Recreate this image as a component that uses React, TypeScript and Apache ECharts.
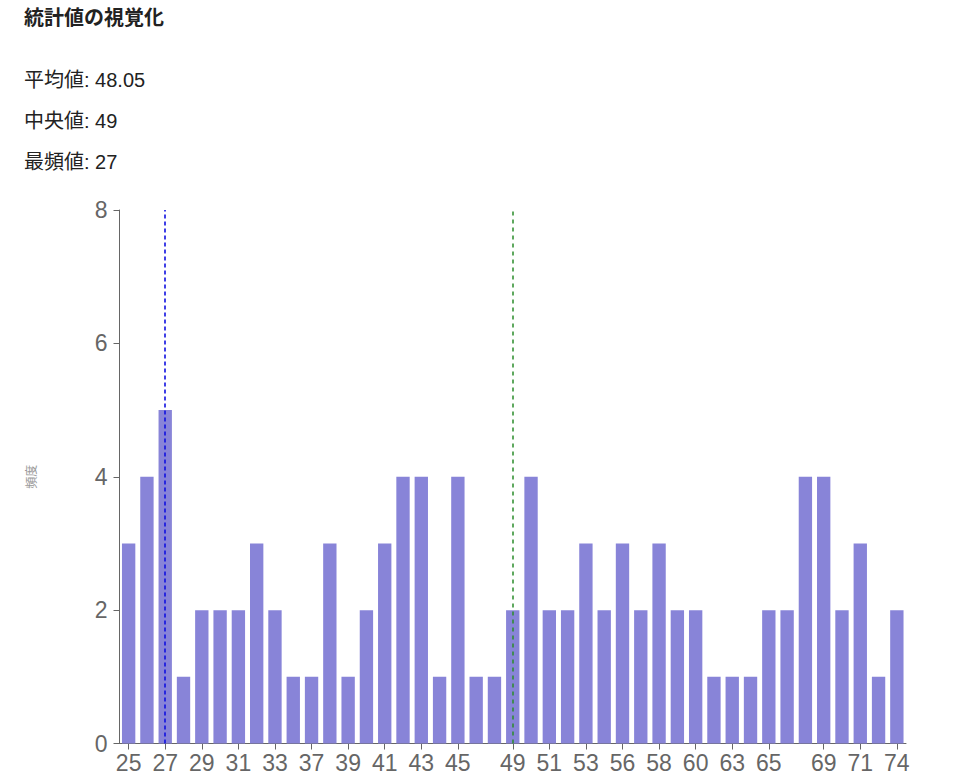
import React, { useEffect, useRef } from "react";
import * as echarts from "echarts";

const categories: string[] = [
  "25", "26", "27", "28", "29", "30", "31", "32", "33", "35",
  "37", "38", "39", "40", "41", "42", "43", "44", "45", "46",
  "47", "49", "50", "51", "52", "53", "54", "56", "57", "58",
  "59", "60", "61", "63", "64", "65", "66", "68", "69", "70",
  "71", "72", "74",
];
const frequencies: number[] = [
  3, 4, 5, 1, 2, 2, 2, 3, 2, 1,
  1, 3, 1, 2, 3, 4, 4, 1, 4, 1,
  1, 2, 4, 2, 2, 3, 2, 3, 2, 3,
  2, 2, 1, 1, 1, 2, 2, 4, 4, 2,
  3, 1, 2,
];
const tickLabels: string[] = [
  "25", "27", "29", "31", "33", "37", "39", "41", "43", "45",
  "49", "51", "53", "56", "58", "60", "63", "65", "69", "71", "74",
];
const statLines: string[] = ["平均値: 48.05", "中央値: 49", "最頻値: 27"];
const modeCategory = "27";
const medianCategory = "49";

export default function App() {
  const ref = useRef<HTMLDivElement>(null);
  useEffect(() => {
    if (!ref.current) return;
    const chart = echarts.init(ref.current, undefined, { renderer: "svg" });
    const font = "'Liberation Sans', 'Noto Sans CJK JP', sans-serif";
    const showTick = (_i: number, v: string) => tickLabels.includes(v);
    chart.setOption({
      animation: false,
      textStyle: { fontFamily: font },
      graphic: [
        {
          type: "text",
          left: 24,
          top: 8,
          style: { text: "統計値の視覚化", font: `bold 20px ${font}`, fill: "#222" },
        },
        ...statLines.map((t, i) => ({
          type: "text",
          left: 24,
          top: 70 + i * 41,
          style: { text: t, font: `20px ${font}`, fill: "#222" },
        })),
      ],
      grid: { left: 119.5, right: 66, top: 210, bottom: 37.5, containLabel: false },
      xAxis: {
        type: "category",
        data: categories,
        axisLine: { show: true, lineStyle: { color: "#666", width: 1 } },
        axisTick: { show: true, alignWithLabel: true, interval: showTick, length: 6, lineStyle: { color: "#666" } },
        axisLabel: { interval: showTick, color: "#666", fontSize: 23, margin: 8, fontFamily: font },
        splitLine: { show: false },
      },
      yAxis: {
        type: "value",
        min: 0,
        max: 8,
        interval: 2,
        name: "頻度",
        nameLocation: "middle",
        nameGap: 82,
        nameRotate: 90,
        nameTextStyle: { color: "#999", fontSize: 12, fontFamily: font },
        axisLine: { show: true, lineStyle: { color: "#666", width: 1 } },
        axisTick: { show: true, length: 6, lineStyle: { color: "#666" } },
        axisLabel: { color: "#666", fontSize: 23, margin: 12, fontFamily: font },
        splitLine: { show: false },
      },
      series: [
        {
          type: "bar",
          data: frequencies,
          barCategoryGap: "27%",
          itemStyle: { color: "#8884d8" },
          markLine: {
            silent: true,
            symbol: "none",
            label: { show: false },
            data: [
              { xAxis: modeCategory, lineStyle: { color: "#1010e0", type: [4, 3], width: 1.6 } },
              { xAxis: medianCategory, lineStyle: { color: "#2a8c2a", type: [4, 4], width: 1.5 } },
            ],
          },
        },
      ],
    });
    return () => chart.dispose();
  }, []);
  return (
    <div
      ref={ref}
      style={{ position: "absolute", left: 0, top: 0, width: 972, height: 781 }}
    />
  );
}
